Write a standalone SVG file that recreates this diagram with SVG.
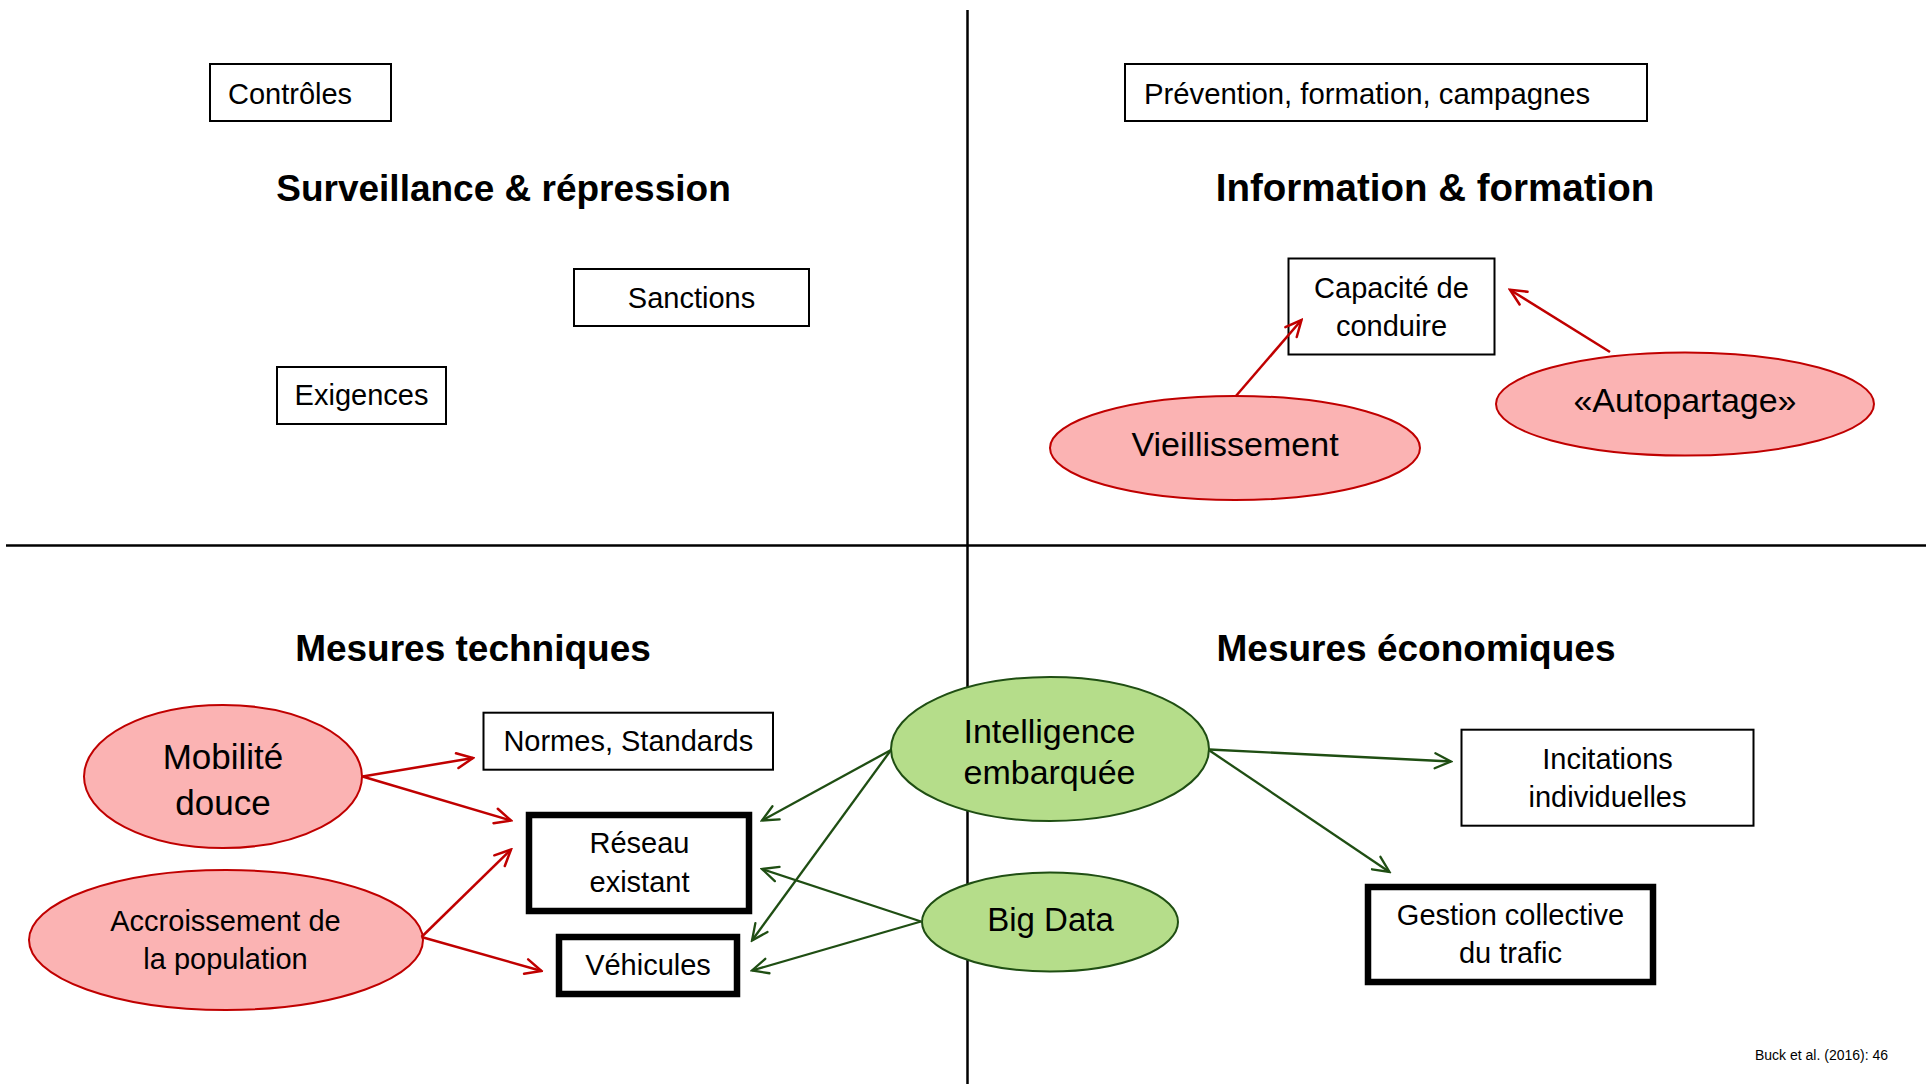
<svg xmlns="http://www.w3.org/2000/svg" width="1930" height="1084" viewBox="0 0 1930 1084">
<style>
text{font-family:"Liberation Sans",Arial,sans-serif;fill:#000}
.t{font-size:29px;text-anchor:middle}
.h{font-size:37px;font-weight:bold;text-anchor:middle}
.e{font-size:34px;text-anchor:middle}
.box{fill:#fff;stroke:#000;stroke-width:2}
.tbox{fill:#fff;stroke:#000;stroke-width:6.5}
.pink{fill:#FBB3B3;stroke:#C00000;stroke-width:2}
.green{fill:#B5DD8A;stroke:#1F4E13;stroke-width:2}
.ar{stroke:#C00000;stroke-width:2.5;fill:none;marker-end:url(#mr)}
.ag{stroke:#1F4E13;stroke-width:2.3;fill:none;marker-end:url(#mg)}
.axis{stroke:#000;stroke-width:2.5}
</style>
<defs>
<marker id="mr" markerUnits="userSpaceOnUse" viewBox="-20 -10 22 20" refX="0" refY="0" markerWidth="22" markerHeight="20" orient="auto">
<path d="M-16,-7.5 L0,0 L-16,7.5" fill="none" stroke="#C00000" stroke-width="2.5" stroke-linecap="round" stroke-linejoin="miter"/>
</marker>
<marker id="mg" markerUnits="userSpaceOnUse" viewBox="-20 -10 22 20" refX="0" refY="0" markerWidth="22" markerHeight="20" orient="auto">
<path d="M-16,-7.5 L0,0 L-16,7.5" fill="none" stroke="#1F4E13" stroke-width="2.3" stroke-linecap="round" stroke-linejoin="miter"/>
</marker>
</defs>
<rect width="1930" height="1084" fill="#fff"/>
<g id="axes">
<line class="axis" x1="967.5" y1="10" x2="967.5" y2="1084"/>
<line class="axis" x1="6" y1="545.5" x2="1926" y2="545.5"/>
</g>
<g id="titles">
<text class="h" x="503.5" y="200.5">Surveillance &amp; répression</text>
<text class="h" x="1435" y="200.5" style="font-size:38.5px">Information &amp; formation</text>
<text class="h" x="473" y="661">Mesures techniques</text>
<text class="h" x="1416" y="661">Mesures économiques</text>
</g>
<g id="controles"><rect class="box" x="210" y="64" width="181" height="57"/><text x="228" y="103.5" style="font-size:29px">Contrôles</text></g>
<g id="sanctions"><rect class="box" x="574" y="269" width="235" height="57"/><text class="t" x="691.5" y="307.5">Sanctions</text></g>
<g id="exigences"><rect class="box" x="277" y="367" width="169" height="57"/><text class="t" x="361.5" y="405">Exigences</text></g>
<g id="prevention"><rect class="box" x="1125" y="64" width="522" height="57"/><text x="1144" y="103.5" style="font-size:29.3px">Prévention, formation, campagnes</text></g>
<g id="capacite"><rect class="box" x="1288.5" y="258.5" width="206" height="96"/><text class="t" x="1391.5" y="297.5">Capacité de</text><text class="t" x="1391.5" y="335.5">conduire</text></g>
<g id="vieillissement"><ellipse class="pink" cx="1235" cy="448" rx="185" ry="52"/><text class="e" x="1235" y="456">Vieillissement</text></g>
<g id="autopartage"><ellipse class="pink" cx="1685" cy="404" rx="189" ry="51.5"/><text class="e" x="1685" y="412">«Autopartage»</text></g>
<g id="normes"><rect class="box" x="483.5" y="712.7" width="289.5" height="57"/><text class="t" x="628.3" y="751">Normes, Standards</text></g>
<g id="reseau"><rect class="tbox" x="529" y="815" width="220" height="96"/><text class="t" x="639.5" y="853">Réseau</text><text class="t" x="639.5" y="892">existant</text></g>
<g id="vehicules"><rect class="tbox" x="559" y="937" width="178" height="57"/><text class="t" x="648" y="975">Véhicules</text></g>
<g id="mobilite"><ellipse class="pink" cx="223" cy="776.5" rx="139" ry="71.5"/><text class="e" x="223" y="769" style="font-size:35px">Mobilité</text><text class="e" x="223" y="815" style="font-size:35px">douce</text></g>
<g id="accroissement"><ellipse class="pink" cx="226" cy="940" rx="197" ry="70"/><text class="t" x="225.5" y="930.5">Accroissement de</text><text class="t" x="225.5" y="968.5">la population</text></g>
<g id="intelligence"><ellipse class="green" cx="1050" cy="749" rx="159" ry="72"/><text class="e" x="1049.5" y="742.5">Intelligence</text><text class="e" x="1049.5" y="784">embarquée</text></g>
<g id="bigdata"><ellipse class="green" cx="1050" cy="922" rx="128" ry="49.5"/><text class="e" x="1050.5" y="931" style="font-size:33px">Big Data</text></g>
<g id="incitations"><rect class="box" x="1461.5" y="729.7" width="292" height="96"/><text class="t" x="1607.5" y="768.5">Incitations</text><text class="t" x="1607.5" y="806.5">individuelles</text></g>
<g id="gestion"><rect class="tbox" x="1368" y="887" width="285" height="95"/><text class="t" x="1510.5" y="925">Gestion collective</text><text class="t" x="1510.5" y="963">du trafic</text></g>
<g id="connectors">
<line class="ar" x1="1235.5" y1="396.5" x2="1301.5" y2="320"/>
<line class="ar" x1="1610" y1="352" x2="1510" y2="289.7"/>
<line class="ar" x1="362.5" y1="776.5" x2="473" y2="758"/>
<line class="ar" x1="362.5" y1="776.5" x2="511" y2="820.5"/>
<line class="ar" x1="421.5" y1="937" x2="511" y2="849.5"/>
<line class="ar" x1="421.5" y1="937" x2="541.5" y2="971"/>
<line class="ag" x1="891" y1="750" x2="762" y2="820.5"/>
<line class="ag" x1="891" y1="750" x2="752" y2="940.5"/>
<line class="ag" x1="921" y1="921.5" x2="762" y2="869"/>
<line class="ag" x1="921" y1="921.5" x2="752" y2="970.5"/>
<line class="ag" x1="1209.5" y1="749.5" x2="1451" y2="761.5"/>
<line class="ag" x1="1209.5" y1="750.5" x2="1389.5" y2="872"/>
</g>
<text id="source" x="1755" y="1059.5" style="font-size:14px">Buck et al. (2016): 46</text>
</svg>
